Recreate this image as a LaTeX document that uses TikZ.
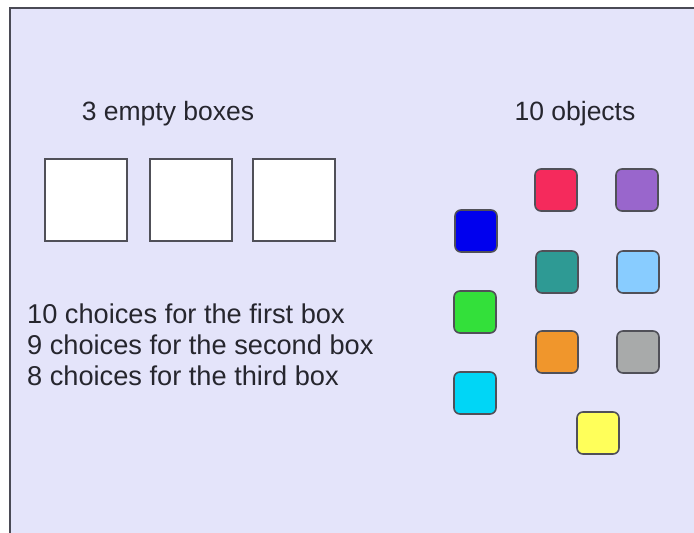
\documentclass[tikz,border=0pt]{standalone}
\usepackage{fontspec}
\setmainfont{Liberation Sans}
\usetikzlibrary{positioning}
\definecolor{sfondo}{HTML}{E4E4FA}
\definecolor{cornice}{HTML}{4A4A55}
\definecolor{bordo}{HTML}{505058}
\definecolor{testocol}{HTML}{26262E}
\definecolor{oblu}{HTML}{0000EE}
\definecolor{orosso}{HTML}{F52A5C}
\definecolor{oviola}{HTML}{9966CC}
\definecolor{oteal}{HTML}{2E9A94}
\definecolor{oceleste}{HTML}{88CCFF}
\definecolor{overde}{HTML}{33E03A}
\definecolor{oarancio}{HTML}{F0962C}
\definecolor{ogrigio}{HTML}{A8AAAA}
\definecolor{ociano}{HTML}{00D6F6}
\definecolor{ogiallo}{HTML}{FFFF5A}
\tikzset{
  scatola/.style={draw=bordo,fill=white,line width=1.8pt,minimum size=82pt,inner sep=0pt},
  oggetto/.style={draw=bordo,line width=1.6pt,rounded corners=6pt,minimum size=42pt,inner sep=0pt},
  testo/.style={font=\fontsize{26.5}{31}\selectfont,text=testocol,inner sep=0pt},
  scelta/.style={font=\fontsize{27.2}{31}\selectfont,text=testocol,inner sep=0pt,anchor=base west}
}
\begin{document}
\begin{tikzpicture}[x=1pt,y=-1pt]
        \useasboundingbox (0,0) rectangle (694,533);
        %disegno sfondo e cornice
        \fill[sfondo] (10,8) rectangle (694,533);
        \draw[cornice,line width=1.5pt] (10,533)--(10,8)--(694,8);
        %disegno titoli
        \node[testo,anchor=base] (titscatole) at (168,120) {3 empty boxes};
        \node[testo,anchor=base] (titoggetti) at (575,120) {10 objects};
        %disegno scatole vuote
        \node[scatola] (scatola1) at (86,200) {};
        \node[scatola,right=21pt of scatola1] (scatola2) {};
        \node[scatola,right=19.5pt of scatola2] (scatola3) {};
        %disegno scelte
        \node[scelta] (scelta1) at (27,323) {10 choices for the first box};
        \node[scelta] (scelta2) at (27,354) {9 choices for the second box};
        \node[scelta] (scelta3) at (27,385) {8 choices for the third box};
        %disegno oggetti
        \node[oggetto,fill=oblu] (blu) at (476,231) {};
        \node[oggetto,fill=overde] (verde) at (475,312) {};
        \node[oggetto,fill=ociano] (ciano) at (475,393) {};
        \node[oggetto,fill=orosso] (rosso) at (556,190) {};
        \node[oggetto,fill=oteal] (teal) at (557,272) {};
        \node[oggetto,fill=oarancio] (arancio) at (557,352) {};
        \node[oggetto,fill=oviola] (viola) at (637,190) {};
        \node[oggetto,fill=oceleste] (celeste) at (638,272) {};
        \node[oggetto,fill=ogrigio] (grigio) at (638,352) {};
        \node[oggetto,fill=ogiallo] (giallo) at (598,433) {};
    \end{tikzpicture}
\end{document}
